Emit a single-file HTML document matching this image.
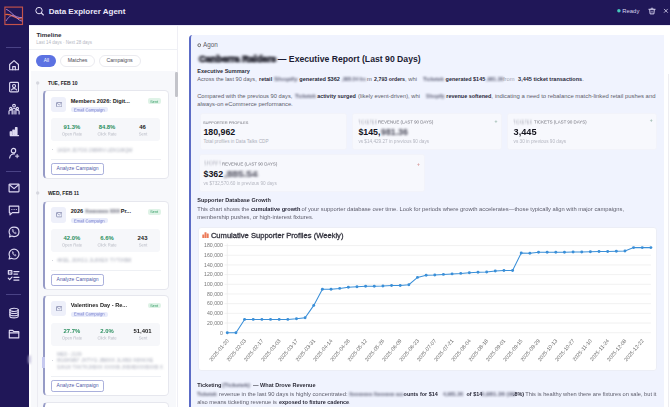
<!DOCTYPE html>
<html><head><meta charset="utf-8">
<style>
*{box-sizing:border-box;margin:0;padding:0}
html,body{width:670px;height:407px;overflow:hidden;background:#fff}
body{position:relative;font-family:"Liberation Sans",sans-serif;color:#333}
.a{position:absolute}
.nw{white-space:nowrap}
.bl{filter:blur(1.1px)}
</style></head><body>
<div class="a" style="left:0px;top:0px;width:670px;height:24.5px;background:#201758"></div>
<div class="a" style="left:29px;top:24.5px;width:641px;height:1px;background:#ecebf8"></div>
<div class="a" style="left:0px;top:0px;width:29px;height:407px;background:#201758"></div>
<svg class="a" style="left:0;top:0" width="30" height="30" viewBox="0 0 30 30">
 <rect x="4.9" y="7.1" width="17.6" height="17.4" fill="none" stroke="#c4524a" stroke-width="1.15"/>
 <path d="M6.2 9.3 C9 10.5 11 12.5 13 14.5 C15 16.4 18 17.6 22 17.7" fill="none" stroke="#b48ad6" stroke-width="0.95"/>
 <path d="M5.3 14.6 C8 13.8 11 15 14 16.7 C16.5 18.2 19 19 22.2 19" fill="none" stroke="#e8643c" stroke-width="1.1"/>
 <path d="M6 21 C8 17.5 10.5 15.3 13 15.6 C15.5 16 17.5 19 19.5 20.2 C20.5 20.8 21.5 21 22.2 21" fill="none" stroke="#bb86cc" stroke-width="0.9"/>
</svg>
<svg class="a" style="left:34px;top:6px" width="12" height="11" viewBox="0 0 12 11">
 <circle cx="5" cy="4.6" r="3.2" fill="none" stroke="#e4e0f6" stroke-width="1.0"/>
 <path d="M7.4 7 L9.4 9" stroke="#e4e0f6" stroke-width="1.1" stroke-linecap="round"/>
</svg>
<div class="a nw " style="left:48.8px;top:8.4px;font-size:8.0px;line-height:8.936px;color:#ebe8f8;font-weight:700;">Data Explorer Agent</div>
<svg class="a" style="left:615px;top:7px" width="8" height="8" viewBox="0 0 8 8"><circle cx="3.9" cy="3.8" r="1.75" fill="#45c8bc"/></svg>
<div class="a nw " style="left:622.3px;top:7.7px;font-size:5.9px;line-height:6.59px;color:#d8d4f0;font-weight:400;">Ready</div>
<svg class="a" style="left:647.5px;top:7px" width="8" height="8" viewBox="0 0 8 8">
 <path d="M0.9 2.3 L7.1 2.3" stroke="#dcd8f4" stroke-width="1" stroke-linecap="round"/>
 <path d="M2.9 2.1 L3.4 1.1 L4.6 1.1 L5.1 2.1" fill="none" stroke="#dcd8f4" stroke-width="0.8" stroke-linejoin="round"/>
 <path d="M1.7 2.6 L2.1 6.9 L5.9 6.9 L6.3 2.6" fill="none" stroke="#dcd8f4" stroke-width="0.95" stroke-linejoin="round"/>
 <path d="M4 3.8 L4 5.6" stroke="#dcd8f4" stroke-width="0.8"/>
</svg>
<svg class="a" style="left:662.5px;top:8.4px" width="6" height="6" viewBox="0 0 6 6">
 <path d="M1.3 1.2 L4.5 4.4 M4.5 1.2 L1.3 4.4" stroke="#dcd8f2" stroke-width="0.8" stroke-linecap="round"/>
</svg>
<div class="a" style="left:6px;top:46.8px;width:15.3px;height:0.9px;background:#4a4385"></div>
<div class="a" style="left:6px;top:170.5px;width:15.3px;height:0.9px;background:#4a4385"></div>
<div class="a" style="left:6px;top:293.8px;width:15.3px;height:0.9px;background:#4a4385"></div>
<svg class="a" style="left:7.65px;top:58.55px" width="12.10" height="12.10" viewBox="0 0 11 11" fill="none" stroke="#dedaf2" stroke-width="1.05" stroke-linecap="round" stroke-linejoin="round"><path d="M1.5 5 L5.5 1.5 L9.5 5 L9.5 9.8 L1.5 9.8 Z"/><path d="M4.3 9.8 L4.3 7 L6.7 7 L6.7 9.8"/></svg>
<svg class="a" style="left:7.65px;top:80.85px" width="12.10" height="12.10" viewBox="0 0 11 11" fill="none" stroke="#dedaf2" stroke-width="1.05" stroke-linecap="round" stroke-linejoin="round"><rect x="1.5" y="1.3" width="8" height="8.6" rx="0.8"/><circle cx="5.5" cy="4.6" r="1.4"/><path d="M3.2 8.2 C3.8 6.6 7.2 6.6 7.8 8.2"/></svg>
<svg class="a" style="left:7.65px;top:102.85px" width="12.10" height="12.10" viewBox="0 0 11 11" fill="none" stroke="#dedaf2" stroke-width="1.05" stroke-linecap="round" stroke-linejoin="round"><circle cx="5.5" cy="2.4" r="1.2"/><circle cx="2.5" cy="5" r="1"/><circle cx="8.5" cy="5" r="1"/><path d="M3.8 10 L3.8 6.2 C3.8 4.6 7.2 4.6 7.2 6.2 L7.2 10"/><path d="M0.9 10 L0.9 7.6 C0.9 6.6 2.2 6.3 3 6.6"/><path d="M10.1 10 L10.1 7.6 C10.1 6.6 8.8 6.3 8 6.6"/><path d="M5.5 7 L5.5 10"/></svg>
<svg class="a" style="left:7.65px;top:124.65px" width="12.10" height="12.10" viewBox="0 0 11 11" fill="none" stroke="#dedaf2" stroke-width="1.05" stroke-linecap="round" stroke-linejoin="round"><path d="M2 9.6 L9.6 9.6" /><rect x="2" y="6.2" width="1.4" height="2.4" fill="#dedaf2"/><rect x="4.4" y="4.6" width="1.4" height="4" fill="#dedaf2"/><rect x="6.8" y="2.4" width="1.4" height="6.2" fill="#dedaf2"/></svg>
<svg class="a" style="left:7.65px;top:146.75px" width="12.10" height="12.10" viewBox="0 0 11 11" fill="none" stroke="#dedaf2" stroke-width="1.05" stroke-linecap="round" stroke-linejoin="round"><circle cx="5" cy="3.3" r="2"/><path d="M1.5 10 C1.8 7 4 6 6 6.3"/><path d="M8.3 6.8 L8.3 9.8 M6.8 8.3 L9.8 8.3" stroke-width="0.9"/></svg>
<svg class="a" style="left:7.65px;top:182.35px" width="12.10" height="12.10" viewBox="0 0 11 11" fill="none" stroke="#dedaf2" stroke-width="1.05" stroke-linecap="round" stroke-linejoin="round"><rect x="1" y="2" width="9" height="7" rx="0.5"/><path d="M1.3 2.5 L5.5 6 L9.7 2.5"/></svg>
<svg class="a" style="left:7.65px;top:204.25px" width="12.10" height="12.10" viewBox="0 0 11 11" fill="none" stroke="#dedaf2" stroke-width="1.05" stroke-linecap="round" stroke-linejoin="round"><path d="M1.2 2 L9.8 2 L9.8 7.8 L4 7.8 L1.8 9.8 L1.8 7.8 L1.2 7.8 Z"/><path d="M3.5 5 L3.6 5 M5.5 5 L5.6 5 M7.5 5 L7.6 5"/></svg>
<svg class="a" style="left:7.65px;top:225.95px" width="12.10" height="12.10" viewBox="0 0 11 11" fill="none" stroke="#dedaf2" stroke-width="1.05" stroke-linecap="round" stroke-linejoin="round"><path d="M5.5 1 C8.2 1 10 2.8 10 5.3 C10 7.8 8.2 9.6 5.5 9.6 C4.8 9.6 4.1 9.4 3.5 9.1 L1.4 10 L1.9 8 C1.3 7.3 1 6.3 1 5.3 C1 2.8 2.8 1 5.5 1 Z"/><path d="M3.9 3.6 C3.9 5.4 5.2 6.8 7.2 7 L7.4 6.1 L6.5 5.6 L6 6 C5.3 5.7 4.9 5.2 4.7 4.6 L5.1 4.1 L4.6 3.2 Z" stroke-width="0.6"/></svg>
<svg class="a" style="left:7.65px;top:247.85px" width="12.10" height="12.10" viewBox="0 0 11 11" fill="none" stroke="#dedaf2" stroke-width="1.05" stroke-linecap="round" stroke-linejoin="round"><path d="M5.5 1 C8 1 10 3 10 5.5 C10 8 8 10 5.5 10 C4.7 10 3.9 9.8 3.2 9.4 L1 10 L1.6 7.9 C1.2 7.2 1 6.4 1 5.5 C1 3 3 1 5.5 1 Z"/><path d="M4 3.8 C4 5.5 5.3 7 7 7.2 L7.2 6.3 L6.3 5.9 L5.9 6.3 C5.3 6 4.9 5.6 4.7 5 L5.1 4.6 L4.7 3.6 Z" stroke-width="0.6"/></svg>
<svg class="a" style="left:7.38px;top:269.28px" width="12.65" height="12.65" viewBox="0 0 11 11" fill="none" stroke="#dedaf2" stroke-width="1.05" stroke-linecap="round" stroke-linejoin="round"><rect x="1.2" y="1.4" width="3" height="3"/><circle cx="2.7" cy="2.9" r="0.5" fill="#dedaf2" stroke="none"/><path d="M6 2.2 L10.4 2.2 M6 4.4 L9.2 4.4"/><path d="M1.1 8 L2.3 9.2 L4.3 7"/><path d="M6 7.2 L10.4 7.2 M6 9.6 L10.4 9.6"/></svg>
<svg class="a" style="left:7.65px;top:306.95px" width="12.10" height="12.10" viewBox="0 0 11 11" fill="none" stroke="#dedaf2" stroke-width="1.05" stroke-linecap="round" stroke-linejoin="round"><ellipse cx="5.5" cy="2.6" rx="3.8" ry="1.5"/><path d="M1.7 2.6 L1.7 8.4 C1.7 10.4 9.3 10.4 9.3 8.4 L9.3 2.6"/><path d="M1.7 4.6 C1.7 6.4 9.3 6.4 9.3 4.6 M1.7 6.6 C1.7 8.4 9.3 8.4 9.3 6.6"/></svg>
<svg class="a" style="left:7.65px;top:328.45px" width="12.10" height="12.10" viewBox="0 0 11 11" fill="none" stroke="#dedaf2" stroke-width="1.05" stroke-linecap="round" stroke-linejoin="round"><path d="M1.2 2.2 L4.2 2.2 L5.2 3.2 L9.8 3.2 L9.8 9 L1.2 9 Z"/><path d="M1.2 4.4 L9.8 4.4"/></svg>
<div class="a" style="left:29px;top:25.5px;width:148.2px;height:382px;background:#fff"></div>
<div class="a" style="left:177.2px;top:25.5px;width:0.6px;height:382px;background:#efeff5"></div>
<div class="a nw " style="left:36.4px;top:31.7px;font-size:6.2px;line-height:6.925px;color:#2b2b33;font-weight:700;">Timeline</div>
<div class="a nw " style="left:36.2px;top:39.9px;font-size:4.5px;line-height:5.027px;color:#b4b6bf;font-weight:400;">Last 14 days · Next 28 days</div>
<div class="a" style="left:29px;top:49.2px;width:147.5px;height:0.6px;background:#eef0f4"></div>
<div class="a" style="left:36.4px;top:54.5px;width:20.1px;height:12px;border-radius:6px;background:#5c72e2"></div>
<div class="a nw " style="left:36.4px;top:58.2px;font-size:4.8px;line-height:5.362px;color:#fff;font-weight:400;"><div style="width:20.1px;text-align:center">All</div></div>
<div class="a" style="left:60.2px;top:54.5px;width:34.8px;height:12px;border-radius:6px;background:#fff;border:0.6px solid #ebebf0"></div>
<div class="a nw " style="left:60.2px;top:58.2px;font-size:5.2px;line-height:5.808px;color:#4a4a55;font-weight:400;"><div style="width:34.8px;text-align:center">Matches</div></div>
<div class="a" style="left:98.5px;top:54.5px;width:42.2px;height:12px;border-radius:6px;background:#fff;border:0.6px solid #ebebf0"></div>
<div class="a nw " style="left:98.5px;top:58.2px;font-size:5.2px;line-height:5.808px;color:#4a4a55;font-weight:400;"><div style="width:42.2px;text-align:center">Campaigns</div></div>
<div class="a" style="left:31px;top:70.5px;width:144.5px;height:337px;background:#f7f8fb"></div>
<div class="a" style="left:37.1px;top:84px;width:1.2px;height:330px;background:#ebebf1"></div>
<div class="a" style="left:175.4px;top:71.7px;width:2.4px;height:25.2px;background:#c3c4ca;border-radius:1.2px"></div>
<svg class="a" style="left:33px;top:78.70px" width="8" height="8" viewBox="0 0 8 8"><circle cx="4.7" cy="4" r="1.7" fill="#d6d7de"/></svg>
<div class="a nw " style="left:47.9px;top:80.5px;font-size:5.0px;line-height:5.585px;color:#222;font-weight:700;">TUE, FEB 10</div>
<svg class="a" style="left:33px;top:189.30px" width="8" height="8" viewBox="0 0 8 8"><circle cx="4.7" cy="4" r="1.7" fill="#d6d7de"/></svg>
<div class="a nw " style="left:47.9px;top:191.3px;font-size:5.0px;line-height:5.585px;color:#222;font-weight:700;">WED, FEB 11</div>
<div class="a" style="left:42.7px;top:90.4px;width:126.5px;height:88.69999999999999px;background:#fff;border:0.6px solid #e6e7ee;border-left:2.2px solid #969bc6;border-radius:4.5px"></div>
<div class="a" style="left:51.3px;top:96.7px;width:14.8px;height:15.2px;background:#eef0fa;border-radius:3px"></div>
<svg class="a" style="left:55.5px;top:101.5px" width="6.4" height="5.4" viewBox="0 0 6.4 5.4"><rect x="0.5" y="0.5" width="5.4" height="4.4" rx="0.6" fill="none" stroke="#7b80a6" stroke-width="0.7"/><path d="M0.8 1 L3.2 3 L5.6 1" fill="none" stroke="#7b80a6" stroke-width="0.6"/></svg>
<div class="a nw " style="left:70.7px;top:97.6px;font-size:5.6px;line-height:6.255px;color:#222;font-weight:700;">Members 2026: Digit...</div>
<div class="a" style="left:148.4px;top:98.4px;width:12.2px;height:5.6px;background:#dff3e7;border-radius:2px"></div>
<div class="a nw" style="left:148.4px;top:99.5px;width:24.4px;text-align:center;font-size:7.8px;line-height:8.713px;color:#2f9a62;font-weight:400;transform:scale(0.5);transform-origin:0 0;will-change:transform;">Sent</div>
<div class="a" style="left:71px;top:107.3px;width:36.5px;height:5.2px;background:#e9ecfb;border-radius:2px"></div>
<div class="a nw" style="left:71px;top:107.9px;width:73.0px;text-align:center;font-size:8.4px;line-height:9.383px;color:#6f78cc;font-weight:400;transform:scale(0.5);transform-origin:0 0;will-change:transform;">Email Campaign</div>
<div class="a" style="left:51.4px;top:118.3px;width:109px;height:23px;background:#f6f7fa;border-radius:3px"></div>
<div class="a nw " style="left:51.8px;top:124px;font-size:5.9px;line-height:6.59px;color:#2a8f5e;font-weight:700;"><div style="width:40px;text-align:center">91.3%</div></div>
<div class="a nw" style="left:51.8px;top:132.1px;width:80px;text-align:center;font-size:8.4px;line-height:9.383px;color:#b5b8c2;font-weight:400;transform:scale(0.5);transform-origin:0 0;will-change:transform;">Open Rate</div>
<div class="a nw " style="left:87px;top:124px;font-size:5.9px;line-height:6.59px;color:#2a8f5e;font-weight:700;"><div style="width:40px;text-align:center">84.8%</div></div>
<div class="a nw" style="left:87px;top:132.1px;width:80px;text-align:center;font-size:8.4px;line-height:9.383px;color:#b5b8c2;font-weight:400;transform:scale(0.5);transform-origin:0 0;will-change:transform;">Click Rate</div>
<div class="a nw " style="left:122.5px;top:124px;font-size:5.9px;line-height:6.59px;color:#222;font-weight:700;"><div style="width:40px;text-align:center">46</div></div>
<div class="a nw" style="left:122.5px;top:132.1px;width:80px;text-align:center;font-size:8.4px;line-height:9.383px;color:#b5b8c2;font-weight:400;transform:scale(0.5);transform-origin:0 0;will-change:transform;">Sent</div>
<div class="a" style="left:51.9px;top:148.9px;width:1.3px;height:1.3px;border-radius:50%;background:#c4c6d0;filter:blur(0.3px)"></div>
<div class="a nw" style="left:57.4px;top:147.5px;font-size:4.6px;line-height:5.138px;color:#a9acba;font-weight:400;transform:scaleX(1.0953);transform-origin:0 0;filter:blur(0.8px);">1KEH JD7O0 29BRN UZKGI8QM</div>
<div class="a" style="left:51px;top:159.0px;width:110px;height:0.6px;background:#eef0f4"></div>
<div class="a" style="left:51.2px;top:163.2px;width:52.8px;height:11.8px;border:0.8px solid #aab0dc;border-radius:2.2px;background:#fff"></div>
<div class="a nw " style="left:51.2px;top:165.9px;font-size:5.0px;line-height:5.585px;color:#5058a8;font-weight:400;"><div style="width:52.8px;text-align:center">Analyze Campaign</div></div>
<div class="a" style="left:42.7px;top:201.1px;width:126.5px;height:89.1px;background:#fff;border:0.6px solid #e6e7ee;border-left:2.2px solid #969bc6;border-radius:4.5px"></div>
<div class="a" style="left:51.3px;top:207.39999999999998px;width:14.8px;height:15.2px;background:#eef0fa;border-radius:3px"></div>
<svg class="a" style="left:55.5px;top:212.2px" width="6.4" height="5.4" viewBox="0 0 6.4 5.4"><rect x="0.5" y="0.5" width="5.4" height="4.4" rx="0.6" fill="none" stroke="#7b80a6" stroke-width="0.7"/><path d="M0.8 1 L3.2 3 L5.6 1" fill="none" stroke="#7b80a6" stroke-width="0.6"/></svg>
<div class="a nw " style="left:70.7px;top:208.3px;font-size:5.6px;line-height:6.255px;color:#222;font-weight:700;">2026 <span style="display:inline-block;width:36px"></span>Pr...</div>
<div class="a" style="left:148.4px;top:209.1px;width:12.2px;height:5.6px;background:#dff3e7;border-radius:2px"></div>
<div class="a nw" style="left:148.4px;top:210.2px;width:24.4px;text-align:center;font-size:7.8px;line-height:8.713px;color:#2f9a62;font-weight:400;transform:scale(0.5);transform-origin:0 0;will-change:transform;">Sent</div>
<div class="a" style="left:71px;top:218.0px;width:36.5px;height:5.2px;background:#e9ecfb;border-radius:2px"></div>
<div class="a nw" style="left:71px;top:218.6px;width:73.0px;text-align:center;font-size:8.4px;line-height:9.383px;color:#6f78cc;font-weight:400;transform:scale(0.5);transform-origin:0 0;will-change:transform;">Email Campaign</div>
<div class="a" style="left:51.4px;top:229.0px;width:109px;height:23px;background:#f6f7fa;border-radius:3px"></div>
<div class="a nw " style="left:51.8px;top:234.7px;font-size:5.9px;line-height:6.59px;color:#2a8f5e;font-weight:700;"><div style="width:40px;text-align:center">42.0%</div></div>
<div class="a nw" style="left:51.8px;top:242.8px;width:80px;text-align:center;font-size:8.4px;line-height:9.383px;color:#b5b8c2;font-weight:400;transform:scale(0.5);transform-origin:0 0;will-change:transform;">Open Rate</div>
<div class="a nw " style="left:87px;top:234.7px;font-size:5.9px;line-height:6.59px;color:#2a8f5e;font-weight:700;"><div style="width:40px;text-align:center">6.6%</div></div>
<div class="a nw" style="left:87px;top:242.8px;width:80px;text-align:center;font-size:8.4px;line-height:9.383px;color:#b5b8c2;font-weight:400;transform:scale(0.5);transform-origin:0 0;will-change:transform;">Click Rate</div>
<div class="a nw " style="left:122.5px;top:234.7px;font-size:5.9px;line-height:6.59px;color:#222;font-weight:700;"><div style="width:40px;text-align:center">243</div></div>
<div class="a nw" style="left:122.5px;top:242.8px;width:80px;text-align:center;font-size:8.4px;line-height:9.383px;color:#b5b8c2;font-weight:400;transform:scale(0.5);transform-origin:0 0;will-change:transform;">Sent</div>
<div class="a" style="left:51.9px;top:259.59999999999997px;width:1.3px;height:1.3px;border-radius:50%;background:#c4c6d0;filter:blur(0.3px)"></div>
<div class="a nw" style="left:57.4px;top:258.2px;font-size:4.6px;line-height:5.138px;color:#a9acba;font-weight:400;transform:scaleX(1.1593);transform-origin:0 0;filter:blur(0.8px);">4KEL J0XG1 JL8XEX TYTIXB8</div>
<div class="a" style="left:51px;top:269.8px;width:110px;height:0.6px;background:#eef0f4"></div>
<div class="a" style="left:51.2px;top:274.0px;width:52.8px;height:11.8px;border:0.8px solid #aab0dc;border-radius:2.2px;background:#fff"></div>
<div class="a nw " style="left:51.2px;top:276.7px;font-size:5.0px;line-height:5.585px;color:#5058a8;font-weight:400;"><div style="width:52.8px;text-align:center">Analyze Campaign</div></div>
<div class="a nw" style="left:84.6px;top:208.3px;font-size:5.6px;line-height:6.255px;color:#55576a;font-weight:700;transform:scaleX(0.9113);transform-origin:0 0;filter:blur(1.1px);">Xxxxxxxx XXX</div>
<div class="a" style="left:42.7px;top:294.7px;width:126.5px;height:101.3px;background:#fff;border:0.6px solid #e6e7ee;border-left:2.2px solid #969bc6;border-radius:4.5px"></div>
<div class="a" style="left:51.3px;top:301.0px;width:14.8px;height:15.2px;background:#eef0fa;border-radius:3px"></div>
<svg class="a" style="left:55.5px;top:305.8px" width="6.4" height="5.4" viewBox="0 0 6.4 5.4"><rect x="0.5" y="0.5" width="5.4" height="4.4" rx="0.6" fill="none" stroke="#7b80a6" stroke-width="0.7"/><path d="M0.8 1 L3.2 3 L5.6 1" fill="none" stroke="#7b80a6" stroke-width="0.6"/></svg>
<div class="a nw " style="left:70.7px;top:301.9px;font-size:5.6px;line-height:6.255px;color:#222;font-weight:700;">Valentines Day - Re...</div>
<div class="a" style="left:148.4px;top:302.7px;width:12.2px;height:5.6px;background:#dff3e7;border-radius:2px"></div>
<div class="a nw" style="left:148.4px;top:303.8px;width:24.4px;text-align:center;font-size:7.8px;line-height:8.713px;color:#2f9a62;font-weight:400;transform:scale(0.5);transform-origin:0 0;will-change:transform;">Sent</div>
<div class="a" style="left:71px;top:311.6px;width:36.5px;height:5.2px;background:#e9ecfb;border-radius:2px"></div>
<div class="a nw" style="left:71px;top:312.2px;width:73.0px;text-align:center;font-size:8.4px;line-height:9.383px;color:#6f78cc;font-weight:400;transform:scale(0.5);transform-origin:0 0;will-change:transform;">Email Campaign</div>
<div class="a" style="left:51.4px;top:322.6px;width:109px;height:23px;background:#f6f7fa;border-radius:3px"></div>
<div class="a nw " style="left:51.8px;top:328.3px;font-size:5.9px;line-height:6.59px;color:#2a8f5e;font-weight:700;"><div style="width:40px;text-align:center">27.7%</div></div>
<div class="a nw" style="left:51.8px;top:336.4px;width:80px;text-align:center;font-size:8.4px;line-height:9.383px;color:#b5b8c2;font-weight:400;transform:scale(0.5);transform-origin:0 0;will-change:transform;">Open Rate</div>
<div class="a nw " style="left:87px;top:328.3px;font-size:5.9px;line-height:6.59px;color:#2a8f5e;font-weight:700;"><div style="width:40px;text-align:center">2.0%</div></div>
<div class="a nw" style="left:87px;top:336.4px;width:80px;text-align:center;font-size:8.4px;line-height:9.383px;color:#b5b8c2;font-weight:400;transform:scale(0.5);transform-origin:0 0;will-change:transform;">Click Rate</div>
<div class="a nw " style="left:122.5px;top:328.3px;font-size:5.9px;line-height:6.59px;color:#222;font-weight:700;"><div style="width:40px;text-align:center">51,401</div></div>
<div class="a nw" style="left:122.5px;top:336.4px;width:80px;text-align:center;font-size:8.4px;line-height:9.383px;color:#b5b8c2;font-weight:400;transform:scale(0.5);transform-origin:0 0;will-change:transform;">Sent</div>
<div class="a nw" style="left:57.4px;top:351.8px;font-size:4.6px;line-height:5.138px;color:#a9acba;font-weight:400;transform:scaleX(0.9982);transform-origin:0 0;filter:blur(0.8px);">MED - 2139</div>
<div class="a" style="left:51.9px;top:359.7px;width:1.3px;height:1.3px;border-radius:50%;background:#c4c6d0;filter:blur(0.3px)"></div>
<div class="a nw" style="left:57.4px;top:358.3px;font-size:4.6px;line-height:5.138px;color:#a9acba;font-weight:400;transform:scaleX(1.1276);transform-origin:0 0;filter:blur(0.8px);">8G9X9B7 JXTYG JB8XX JLXB0 X8XKXE</div>
<div class="a nw" style="left:57.4px;top:364.8px;font-size:4.6px;line-height:5.138px;color:#a9acba;font-weight:400;transform:scaleX(1.0322);transform-origin:0 0;filter:blur(0.8px);">SXIUX TXKTXJXBXX XXXXB JXBXBXXXBXXB X</div>
<div class="a" style="left:51px;top:376.1px;width:110px;height:0.6px;background:#eef0f4"></div>
<div class="a" style="left:51.2px;top:380.3px;width:52.8px;height:11.8px;border:0.8px solid #aab0dc;border-radius:2.2px;background:#fff"></div>
<div class="a nw " style="left:51.2px;top:383.0px;font-size:5.0px;line-height:5.585px;color:#5058a8;font-weight:400;"><div style="width:52.8px;text-align:center">Analyze Campaign</div></div>
<div class="a" style="left:42.7px;top:401.9px;width:126.5px;height:40px;background:#fff;border:0.6px solid #e6e7ee;border-left:2.2px solid #969bc6;border-radius:4.5px"></div>
<div class="a" style="left:27.6px;top:354.6px;width:3.6px;height:9.8px;border-radius:50%;background:#b9b6d6;filter:blur(0.9px);opacity:0.8"></div>
<div class="a" style="left:42.4px;top:357px;width:3px;height:10.5px;background:#c6c9ef;filter:blur(0.6px)"></div>
<div class="a" style="left:189px;top:35.4px;width:474.7px;height:400px;background:#f0f3fe;border-left:2.3px solid #5c6cc6;border-radius:3.5px 0 0 0"></div>
<svg class="a" style="left:196.6px;top:43.2px" width="4.4" height="4.4" viewBox="0 0 4.4 4.4"><circle cx="2.3" cy="2.2" r="1.45" fill="none" stroke="#666" stroke-width="0.95"/></svg>
<div class="a nw " style="left:203px;top:41.4px;font-size:6.3px;line-height:7.037px;color:#5c5c68;font-weight:400;">Agon</div>
<div class="a nw" style="left:198.7px;top:55.3px;font-size:8.66px;line-height:9.673px;color:#30303c;font-weight:700;transform:scaleX(1.0707);transform-origin:0 0;filter:blur(1.3px);-webkit-text-stroke:0.9px #30303c">Canberra Raiders</div>
<div class="a nw " style="left:277.8px;top:55.3px;font-size:8.66px;line-height:9.673px;color:#1c1c34;font-weight:700;">— Executive Report (Last 90 Days)</div>
<div class="a nw " style="left:197.2px;top:68.2px;font-size:5.55px;line-height:6.199px;color:#2e2e3a;font-weight:700;">Executive Summary</div>
<div class="a nw " style="left:197.2px;top:76.4px;font-size:5.614px;line-height:6.271px;color:#5d5d6b;font-weight:400;">Across the last 90 days,</div>
<div class="a nw " style="left:259px;top:76.4px;font-size:5.523px;line-height:6.169px;color:#2a2a3a;font-weight:700;">retail</div>
<div class="a nw" style="left:273.9px;top:76.4px;font-size:5.8px;line-height:6.479px;color:#5a5c74;font-weight:700;transform:scaleX(1.1098);transform-origin:0 0;filter:blur(1.15px);">Shopify</div>
<div class="a nw " style="left:299.3px;top:76.4px;font-size:5.589px;line-height:6.243px;color:#2a2a3a;font-weight:700;">generated $362</div>
<div class="a nw" style="left:341.5px;top:76.4px;font-size:5.8px;line-height:6.479px;color:#5a5c74;font-weight:700;transform:scaleX(0.8399);transform-origin:0 0;filter:blur(1.15px);">,885.54 fro</div>
<div class="a nw " style="left:367px;top:76.4px;font-size:5.8px;line-height:6.479px;color:#5d5d6b;font-weight:400;">m</div>
<div class="a nw " style="left:374.1px;top:77.4px;font-size:5.261px;line-height:5.877px;color:#2a2a3a;font-weight:700;">2,793 orders</div>
<div class="a nw " style="left:405.1px;top:76.4px;font-size:5.8px;line-height:6.479px;color:#5d5d6b;font-weight:400;">, whi</div>
<div class="a nw" style="left:423.2px;top:76.4px;font-size:5.8px;line-height:6.479px;color:#5a5c74;font-weight:700;transform:scaleX(0.9044);transform-origin:0 0;filter:blur(1.15px);">Ticketek</div>
<div class="a nw " style="left:445.6px;top:76.4px;font-size:5.452px;line-height:6.09px;color:#2a2a3a;font-weight:700;">generated $145</div>
<div class="a nw" style="left:485.5px;top:76.4px;font-size:5.8px;line-height:6.479px;color:#5a5c74;font-weight:700;transform:scaleX(0.9043);transform-origin:0 0;filter:blur(1.15px);">,981.36</div>
<div class="a nw " style="left:503px;top:76.4px;font-size:5.8px;line-height:6.479px;color:#a0a2b0;font-weight:400;">from</div>
<div class="a nw " style="left:518.1px;top:76.4px;font-size:5.526px;line-height:6.173px;color:#2a2a3a;font-weight:700;">3,445 ticket transactions</div>
<div class="a nw " style="left:582.3px;top:76.4px;font-size:5.8px;line-height:6.479px;color:#5d5d6b;font-weight:400;">.</div>
<div class="a nw " style="left:197.2px;top:93.1px;font-size:5.773px;line-height:6.448px;color:#5d5d6b;font-weight:400;">Compared with the previous 90 days,</div>
<div class="a nw" style="left:294.8px;top:93.1px;font-size:5.8px;line-height:6.479px;color:#5a5c74;font-weight:700;transform:scaleX(0.9044);transform-origin:0 0;filter:blur(1.15px);">Ticketek</div>
<div class="a nw " style="left:317.2px;top:93.1px;font-size:5.483px;line-height:6.125px;color:#2a2a3a;font-weight:700;">activity surged</div>
<div class="a nw " style="left:358.1px;top:93.1px;font-size:5.771px;line-height:6.446px;color:#5d5d6b;font-weight:400;">(likely event-driven), whi</div>
<div class="a nw" style="left:426.2px;top:93.1px;font-size:5.8px;line-height:6.479px;color:#5a5c74;font-weight:700;transform:scaleX(0.8793);transform-origin:0 0;filter:blur(1.15px);">Shopify</div>
<div class="a nw " style="left:446.3px;top:93.1px;font-size:5.459px;line-height:6.098px;color:#2a2a3a;font-weight:700;">revenue softened</div>
<div class="a nw " style="left:491.3px;top:93.1px;font-size:5.8px;line-height:6.479px;color:#5d5d6b;font-weight:400;">,</div>
<div class="a nw " style="left:494.9px;top:93.1px;font-size:5.926px;line-height:6.619px;color:#5d5d6b;font-weight:400;">indicating a need to rebalance match-linked retail pushes and</div>
<div class="a nw " style="left:197.2px;top:101.3px;font-size:5.843px;line-height:6.527px;color:#5d5d6b;font-weight:400;">always-on eCommerce performance.</div>
<div class="a" style="left:199.7px;top:113.2px;width:146.9px;height:36.5px;background:#f7f8fd;border-radius:2.5px;border:0.5px solid #f2f3fa"></div>
<div class="a" style="left:352.1px;top:113.2px;width:149.7px;height:36.5px;background:#f7f8fd;border-radius:2.5px;border:0.5px solid #f2f3fa"></div>
<div class="a" style="left:507.3px;top:113.2px;width:149.9px;height:36.5px;background:#f7f8fd;border-radius:2.5px;border:0.5px solid #f2f3fa"></div>
<div class="a" style="left:199.4px;top:154.1px;width:225.2px;height:38.2px;background:#f7f8fd;border-radius:2.5px;border:0.5px solid #f2f3fa"></div>
<div class="a nw" style="left:203.2px;top:120.7px;font-size:7.96px;line-height:8.891px;color:#6c6c76;font-weight:400;transform:scale(0.5);transform-origin:0 0;will-change:transform;">SUPPORTER PROFILES</div>
<div class="a nw " style="left:203.4px;top:127.8px;font-size:8.8px;line-height:9.83px;color:#14141e;font-weight:700;">180,962</div>
<div class="a nw " style="left:203.4px;top:138.8px;font-size:4.67px;line-height:5.216px;color:#aeb0ba;font-weight:400;">Total profiles in Data Talks CDP</div>
<div class="a nw" style="left:358.2px;top:119.7px;font-size:4.6px;line-height:5.138px;color:#b0b2be;font-weight:400;transform:scaleX(0.8625);transform-origin:0 0;filter:blur(0.9px);">TICKETEK</div>
<div class="a nw" style="left:378.4px;top:120.2px;font-size:8.8px;line-height:9.83px;color:#6c6c76;font-weight:400;transform:scale(0.5);transform-origin:0 0;will-change:transform;">REVENUE (LAST 90 DAYS)</div>
<div class="a nw " style="left:358.4px;top:127.7px;font-size:8.8px;line-height:9.83px;color:#14141e;font-weight:700;">$145,</div>
<div class="a nw" style="left:380.6px;top:127.7px;font-size:8.8px;line-height:9.83px;color:#4a4a5a;font-weight:700;transform:scaleX(0.9994);transform-origin:0 0;filter:blur(1.3px);">981.36</div>
<div class="a nw " style="left:358.4px;top:139.0px;font-size:4.67px;line-height:5.216px;color:#b4b6c0;font-weight:400;filter:blur(0.4px)">vs $14,429.27 in previous 90 days</div>
<div class="a nw" style="left:494.4px;top:118.6px;font-size:5px;line-height:5px;color:#9ab8ae;font-weight:700">+</div>
<div class="a nw" style="left:513.2px;top:119.7px;font-size:4.6px;line-height:5.138px;color:#b0b2be;font-weight:400;transform:scaleX(0.8625);transform-origin:0 0;filter:blur(0.9px);">TICKETEK</div>
<div class="a nw" style="left:534.1px;top:120.2px;font-size:8.8px;line-height:9.83px;color:#6c6c76;font-weight:400;transform:scale(0.5);transform-origin:0 0;will-change:transform;">TICKETS (LAST 90 DAYS)</div>
<div class="a nw " style="left:513.6px;top:126.7px;font-size:9.2px;line-height:10.276px;color:#14141e;font-weight:700;">3,445</div>
<div class="a nw " style="left:513.6px;top:139.3px;font-size:4.67px;line-height:5.216px;color:#b4b6c0;font-weight:400;">vs 30 in previous 90 days</div>
<div class="a nw" style="left:649.7px;top:118.4px;font-size:5px;line-height:5px;color:#9ab8ae;font-weight:700">+</div>
<div class="a nw" style="left:203.5px;top:161.2px;font-size:4.6px;line-height:5.138px;color:#b0b2be;font-weight:400;transform:scaleX(0.8568);transform-origin:0 0;filter:blur(0.9px);">SHOPIFY</div>
<div class="a nw" style="left:222.2px;top:161.7px;font-size:8.8px;line-height:9.83px;color:#6c6c76;font-weight:400;transform:scale(0.5);transform-origin:0 0;will-change:transform;">REVENUE (LAST 90 DAYS)</div>
<div class="a nw " style="left:203.5px;top:169.9px;font-size:8.8px;line-height:9.83px;color:#14141e;font-weight:700;">$362</div>
<div class="a nw" style="left:223.7px;top:169.9px;font-size:8.8px;line-height:9.83px;color:#4a4a5a;font-weight:700;transform:scaleX(1.1410);transform-origin:0 0;filter:blur(1.3px);">,885.54</div>
<div class="a nw " style="left:203.5px;top:181.4px;font-size:4.67px;line-height:5.216px;color:#b4b6c0;font-weight:400;filter:blur(0.4px)">vs $732,570.60 in previous 90 days</div>
<div class="a nw" style="left:417.1px;top:161.8px;font-size:5px;line-height:5px;color:#d89a9a;font-weight:700">+</div>
<div class="a nw " style="left:197.2px;top:197.2px;font-size:5.55px;line-height:6.199px;color:#2e2e3a;font-weight:700;">Supporter Database Growth</div>
<div class="a nw " style="left:197.2px;top:205.9px;font-size:5.692px;line-height:6.358px;color:#5d5d6b;font-weight:400;">This chart shows the</div>
<div class="a nw " style="left:250.9px;top:205.9px;font-size:5.603px;line-height:6.259px;color:#2a2a3a;font-weight:700;">cumulative growth</div>
<div class="a nw " style="left:301.5px;top:205.9px;font-size:5.805px;line-height:6.484px;color:#5d5d6b;font-weight:400;">of your supporter database over time. Look for periods where growth accelerates—those typically align with major campaigns,</div>
<div class="a nw " style="left:197.2px;top:214.1px;font-size:5.822px;line-height:6.503px;color:#5d5d6b;font-weight:400;">membership pushes, or high-interest fixtures.</div>
<div class="a" style="left:198.0px;top:226.5px;width:459px;height:144.3px;background:#fff;border-radius:3px;border:0.5px solid #eceef6"></div>
<svg class="a" style="left:202px;top:232px" width="7" height="6.2" viewBox="0 0 7 6.2">
<rect x="0.3" y="2.4" width="2" height="3.6" rx="0.3" fill="#ec7a58"/><rect x="2.5" y="0.3" width="2" height="5.7" rx="0.3" fill="#ec7a58"/><rect x="4.7" y="1.6" width="2" height="4.4" rx="0.3" fill="#ec7a58"/></svg>
<div class="a nw " style="left:210.9px;top:231.5px;font-size:7.58px;line-height:8.467px;color:#33333e;font-weight:400;-webkit-text-stroke:0.3px #33333e">Cumulative Supporter Profiles (Weekly)</div>
<svg class="a" style="left:0;top:0" width="670" height="407" viewBox="0 0 670 407">
<line x1="224.5" y1="332.70" x2="650.9" y2="332.70" stroke="#e6e6e6" stroke-width="0.55"/>
<line x1="224.5" y1="323.02" x2="650.9" y2="323.02" stroke="#e6e6e6" stroke-width="0.55"/>
<line x1="224.5" y1="313.34" x2="650.9" y2="313.34" stroke="#e6e6e6" stroke-width="0.55"/>
<line x1="224.5" y1="303.66" x2="650.9" y2="303.66" stroke="#e6e6e6" stroke-width="0.55"/>
<line x1="224.5" y1="293.98" x2="650.9" y2="293.98" stroke="#e6e6e6" stroke-width="0.55"/>
<line x1="224.5" y1="284.30" x2="650.9" y2="284.30" stroke="#e6e6e6" stroke-width="0.55"/>
<line x1="224.5" y1="274.62" x2="650.9" y2="274.62" stroke="#e6e6e6" stroke-width="0.55"/>
<line x1="224.5" y1="264.94" x2="650.9" y2="264.94" stroke="#e6e6e6" stroke-width="0.55"/>
<line x1="224.5" y1="255.26" x2="650.9" y2="255.26" stroke="#e6e6e6" stroke-width="0.55"/>
<line x1="224.5" y1="245.58" x2="650.9" y2="245.58" stroke="#e6e6e6" stroke-width="0.55"/>
<line x1="227.3" y1="243.5" x2="227.3" y2="335.5" stroke="#e6e6e6" stroke-width="0.55"/>
<text x="222.8" y="334.50" font-size="5.2" fill="#777" text-anchor="end" font-family="Liberation Sans">0</text>
<text x="222.8" y="324.82" font-size="5.2" fill="#777" text-anchor="end" font-family="Liberation Sans">20,000</text>
<text x="222.8" y="315.14" font-size="5.2" fill="#777" text-anchor="end" font-family="Liberation Sans">40,000</text>
<text x="222.8" y="305.46" font-size="5.2" fill="#777" text-anchor="end" font-family="Liberation Sans">60,000</text>
<text x="222.8" y="295.78" font-size="5.2" fill="#777" text-anchor="end" font-family="Liberation Sans">80,000</text>
<text x="222.8" y="286.10" font-size="5.2" fill="#777" text-anchor="end" font-family="Liberation Sans">100,000</text>
<text x="222.8" y="276.42" font-size="5.2" fill="#777" text-anchor="end" font-family="Liberation Sans">120,000</text>
<text x="222.8" y="266.74" font-size="5.2" fill="#777" text-anchor="end" font-family="Liberation Sans">140,000</text>
<text x="222.8" y="257.06" font-size="5.2" fill="#777" text-anchor="end" font-family="Liberation Sans">160,000</text>
<text x="222.8" y="247.38" font-size="5.2" fill="#777" text-anchor="end" font-family="Liberation Sans">180,000</text>
<text transform="translate(227.70,339.8) rotate(-50)" font-size="5.3" fill="#6e6e6e" text-anchor="end" dy="1.8" font-family="Liberation Sans">2025-01-20</text>
<text transform="translate(244.99,339.8) rotate(-50)" font-size="5.3" fill="#6e6e6e" text-anchor="end" dy="1.8" font-family="Liberation Sans">2025-02-03</text>
<text transform="translate(262.28,339.8) rotate(-50)" font-size="5.3" fill="#6e6e6e" text-anchor="end" dy="1.8" font-family="Liberation Sans">2025-02-17</text>
<text transform="translate(279.57,339.8) rotate(-50)" font-size="5.3" fill="#6e6e6e" text-anchor="end" dy="1.8" font-family="Liberation Sans">2025-03-03</text>
<text transform="translate(296.86,339.8) rotate(-50)" font-size="5.3" fill="#6e6e6e" text-anchor="end" dy="1.8" font-family="Liberation Sans">2025-03-17</text>
<text transform="translate(314.15,339.8) rotate(-50)" font-size="5.3" fill="#6e6e6e" text-anchor="end" dy="1.8" font-family="Liberation Sans">2025-03-31</text>
<text transform="translate(331.44,339.8) rotate(-50)" font-size="5.3" fill="#6e6e6e" text-anchor="end" dy="1.8" font-family="Liberation Sans">2025-04-14</text>
<text transform="translate(348.73,339.8) rotate(-50)" font-size="5.3" fill="#6e6e6e" text-anchor="end" dy="1.8" font-family="Liberation Sans">2025-04-28</text>
<text transform="translate(366.02,339.8) rotate(-50)" font-size="5.3" fill="#6e6e6e" text-anchor="end" dy="1.8" font-family="Liberation Sans">2025-05-12</text>
<text transform="translate(383.31,339.8) rotate(-50)" font-size="5.3" fill="#6e6e6e" text-anchor="end" dy="1.8" font-family="Liberation Sans">2025-05-26</text>
<text transform="translate(400.60,339.8) rotate(-50)" font-size="5.3" fill="#6e6e6e" text-anchor="end" dy="1.8" font-family="Liberation Sans">2025-06-09</text>
<text transform="translate(417.89,339.8) rotate(-50)" font-size="5.3" fill="#6e6e6e" text-anchor="end" dy="1.8" font-family="Liberation Sans">2025-06-23</text>
<text transform="translate(435.18,339.8) rotate(-50)" font-size="5.3" fill="#6e6e6e" text-anchor="end" dy="1.8" font-family="Liberation Sans">2025-07-07</text>
<text transform="translate(452.47,339.8) rotate(-50)" font-size="5.3" fill="#6e6e6e" text-anchor="end" dy="1.8" font-family="Liberation Sans">2025-07-21</text>
<text transform="translate(469.76,339.8) rotate(-50)" font-size="5.3" fill="#6e6e6e" text-anchor="end" dy="1.8" font-family="Liberation Sans">2025-08-04</text>
<text transform="translate(487.05,339.8) rotate(-50)" font-size="5.3" fill="#6e6e6e" text-anchor="end" dy="1.8" font-family="Liberation Sans">2025-08-18</text>
<text transform="translate(504.34,339.8) rotate(-50)" font-size="5.3" fill="#6e6e6e" text-anchor="end" dy="1.8" font-family="Liberation Sans">2025-09-01</text>
<text transform="translate(521.63,339.8) rotate(-50)" font-size="5.3" fill="#6e6e6e" text-anchor="end" dy="1.8" font-family="Liberation Sans">2025-09-15</text>
<text transform="translate(538.92,339.8) rotate(-50)" font-size="5.3" fill="#6e6e6e" text-anchor="end" dy="1.8" font-family="Liberation Sans">2025-09-29</text>
<text transform="translate(556.21,339.8) rotate(-50)" font-size="5.3" fill="#6e6e6e" text-anchor="end" dy="1.8" font-family="Liberation Sans">2025-10-13</text>
<text transform="translate(573.50,339.8) rotate(-50)" font-size="5.3" fill="#6e6e6e" text-anchor="end" dy="1.8" font-family="Liberation Sans">2025-10-27</text>
<text transform="translate(590.79,339.8) rotate(-50)" font-size="5.3" fill="#6e6e6e" text-anchor="end" dy="1.8" font-family="Liberation Sans">2025-11-10</text>
<text transform="translate(608.08,339.8) rotate(-50)" font-size="5.3" fill="#6e6e6e" text-anchor="end" dy="1.8" font-family="Liberation Sans">2025-11-24</text>
<text transform="translate(625.37,339.8) rotate(-50)" font-size="5.3" fill="#6e6e6e" text-anchor="end" dy="1.8" font-family="Liberation Sans">2025-12-08</text>
<text transform="translate(642.66,339.8) rotate(-50)" font-size="5.3" fill="#6e6e6e" text-anchor="end" dy="1.8" font-family="Liberation Sans">2025-12-22</text>
<polyline points="227.30,332.70 235.95,332.70 244.59,319.40 253.24,319.40 261.88,319.40 270.52,319.40 279.17,319.40 287.81,319.40 296.46,318.70 305.11,317.70 313.75,305.40 322.39,289.20 331.04,289.20 339.69,288.40 348.33,287.20 356.98,286.70 365.62,286.20 374.26,286.20 382.91,286.00 391.56,285.50 400.20,285.50 408.85,284.70 417.49,277.40 426.13,275.20 434.78,275.00 443.43,274.40 452.07,273.90 460.72,273.40 469.36,272.70 478.00,272.20 486.65,272.00 495.30,271.00 503.94,270.50 512.59,270.50 521.23,253.00 529.88,253.30 538.52,252.30 547.16,252.30 555.81,252.30 564.45,252.30 573.10,252.00 581.75,252.00 590.39,251.80 599.03,251.50 607.68,251.50 616.33,251.30 624.97,251.00 633.62,247.60 642.26,247.60 650.90,247.60" fill="none" stroke="#3a8fd8" stroke-width="1.05"/>
<circle cx="227.30" cy="332.70" r="1.45" fill="#3a8fd8"/>
<circle cx="235.95" cy="332.70" r="1.45" fill="#3a8fd8"/>
<circle cx="244.59" cy="319.40" r="1.45" fill="#3a8fd8"/>
<circle cx="253.24" cy="319.40" r="1.45" fill="#3a8fd8"/>
<circle cx="261.88" cy="319.40" r="1.45" fill="#3a8fd8"/>
<circle cx="270.52" cy="319.40" r="1.45" fill="#3a8fd8"/>
<circle cx="279.17" cy="319.40" r="1.45" fill="#3a8fd8"/>
<circle cx="287.81" cy="319.40" r="1.45" fill="#3a8fd8"/>
<circle cx="296.46" cy="318.70" r="1.45" fill="#3a8fd8"/>
<circle cx="305.11" cy="317.70" r="1.45" fill="#3a8fd8"/>
<circle cx="313.75" cy="305.40" r="1.45" fill="#3a8fd8"/>
<circle cx="322.39" cy="289.20" r="1.45" fill="#3a8fd8"/>
<circle cx="331.04" cy="289.20" r="1.45" fill="#3a8fd8"/>
<circle cx="339.69" cy="288.40" r="1.45" fill="#3a8fd8"/>
<circle cx="348.33" cy="287.20" r="1.45" fill="#3a8fd8"/>
<circle cx="356.98" cy="286.70" r="1.45" fill="#3a8fd8"/>
<circle cx="365.62" cy="286.20" r="1.45" fill="#3a8fd8"/>
<circle cx="374.26" cy="286.20" r="1.45" fill="#3a8fd8"/>
<circle cx="382.91" cy="286.00" r="1.45" fill="#3a8fd8"/>
<circle cx="391.56" cy="285.50" r="1.45" fill="#3a8fd8"/>
<circle cx="400.20" cy="285.50" r="1.45" fill="#3a8fd8"/>
<circle cx="408.85" cy="284.70" r="1.45" fill="#3a8fd8"/>
<circle cx="417.49" cy="277.40" r="1.45" fill="#3a8fd8"/>
<circle cx="426.13" cy="275.20" r="1.45" fill="#3a8fd8"/>
<circle cx="434.78" cy="275.00" r="1.45" fill="#3a8fd8"/>
<circle cx="443.43" cy="274.40" r="1.45" fill="#3a8fd8"/>
<circle cx="452.07" cy="273.90" r="1.45" fill="#3a8fd8"/>
<circle cx="460.72" cy="273.40" r="1.45" fill="#3a8fd8"/>
<circle cx="469.36" cy="272.70" r="1.45" fill="#3a8fd8"/>
<circle cx="478.00" cy="272.20" r="1.45" fill="#3a8fd8"/>
<circle cx="486.65" cy="272.00" r="1.45" fill="#3a8fd8"/>
<circle cx="495.30" cy="271.00" r="1.45" fill="#3a8fd8"/>
<circle cx="503.94" cy="270.50" r="1.45" fill="#3a8fd8"/>
<circle cx="512.59" cy="270.50" r="1.45" fill="#3a8fd8"/>
<circle cx="521.23" cy="253.00" r="1.45" fill="#3a8fd8"/>
<circle cx="529.88" cy="253.30" r="1.45" fill="#3a8fd8"/>
<circle cx="538.52" cy="252.30" r="1.45" fill="#3a8fd8"/>
<circle cx="547.16" cy="252.30" r="1.45" fill="#3a8fd8"/>
<circle cx="555.81" cy="252.30" r="1.45" fill="#3a8fd8"/>
<circle cx="564.45" cy="252.30" r="1.45" fill="#3a8fd8"/>
<circle cx="573.10" cy="252.00" r="1.45" fill="#3a8fd8"/>
<circle cx="581.75" cy="252.00" r="1.45" fill="#3a8fd8"/>
<circle cx="590.39" cy="251.80" r="1.45" fill="#3a8fd8"/>
<circle cx="599.03" cy="251.50" r="1.45" fill="#3a8fd8"/>
<circle cx="607.68" cy="251.50" r="1.45" fill="#3a8fd8"/>
<circle cx="616.33" cy="251.30" r="1.45" fill="#3a8fd8"/>
<circle cx="624.97" cy="251.00" r="1.45" fill="#3a8fd8"/>
<circle cx="633.62" cy="247.60" r="1.45" fill="#3a8fd8"/>
<circle cx="642.26" cy="247.60" r="1.45" fill="#3a8fd8"/>
<circle cx="650.90" cy="247.60" r="1.45" fill="#3a8fd8"/>
</svg>
<div class="a nw " style="left:197.2px;top:381.6px;font-size:5.55px;line-height:6.199px;color:#2e2e3a;font-weight:700;">Ticketing</div>
<div class="a nw" style="left:222px;top:381.6px;font-size:5.55px;line-height:6.199px;color:#5a5c74;font-weight:700;transform:scaleX(1.0849);transform-origin:0 0;filter:blur(1.15px);">(Ticketek)</div>
<div class="a nw " style="left:253px;top:381.6px;font-size:5.55px;line-height:6.199px;color:#2e2e3a;font-weight:700;">— What Drove Revenue</div>
<div class="a nw" style="left:197.2px;top:390.7px;font-size:5.8px;line-height:6.479px;color:#5a5c74;font-weight:700;transform:scaleX(0.8568);transform-origin:0 0;filter:blur(1.15px);">Ticketek</div>
<div class="a nw " style="left:219px;top:390.7px;font-size:5.807px;line-height:6.486px;color:#5d5d6b;font-weight:400;">revenue in the last 90 days is highly concentrated:</div>
<div class="a nw" style="left:349px;top:390.7px;font-size:5.8px;line-height:6.479px;color:#5a5c74;font-weight:700;transform:scaleX(0.7910);transform-origin:0 0;filter:blur(1.15px);">Xxxxxxxxx Xxxxxxxx acc</div>
<div class="a nw " style="left:403.6px;top:390.7px;font-size:5.45px;line-height:6.088px;color:#2a2a3a;font-weight:700;">ounts for $14</div>
<div class="a nw" style="left:443px;top:390.7px;font-size:5.8px;line-height:6.479px;color:#5a5c74;font-weight:700;transform:scaleX(0.8859);transform-origin:0 0;filter:blur(1.15px);">4,981.36</div>
<div class="a nw " style="left:466.5px;top:390.7px;font-size:5.45px;line-height:6.088px;color:#2a2a3a;font-weight:700;">of $14</div>
<div class="a nw" style="left:480.5px;top:390.7px;font-size:5.8px;line-height:6.479px;color:#5a5c74;font-weight:700;transform:scaleX(1.0592);transform-origin:0 0;filter:blur(1.15px);">5,981.36 (99</div>
<div class="a nw " style="left:513px;top:390.7px;font-size:5.45px;line-height:6.088px;color:#2a2a3a;font-weight:700;">.8%)</div>
<div class="a nw " style="left:525.2px;top:390.7px;font-size:5.696px;line-height:6.362px;color:#5d5d6b;font-weight:400;">This is healthy when there are fixtures on sale, but it</div>
<div class="a nw " style="left:197.2px;top:398.9px;font-size:5.72px;line-height:6.389px;color:#5d5d6b;font-weight:400;">also means ticketing revenue is</div>
<div class="a nw " style="left:279px;top:398.9px;font-size:5.45px;line-height:6.088px;color:#2a2a3a;font-weight:700;">exposed to fixture cadence</div>
<div class="a nw " style="left:348.3px;top:398.9px;font-size:5.8px;line-height:6.479px;color:#5d5d6b;font-weight:400;">.</div>
<div class="a" style="left:668.4px;top:74px;width:1px;height:333px;background:#ededf1"></div>
</body></html>
